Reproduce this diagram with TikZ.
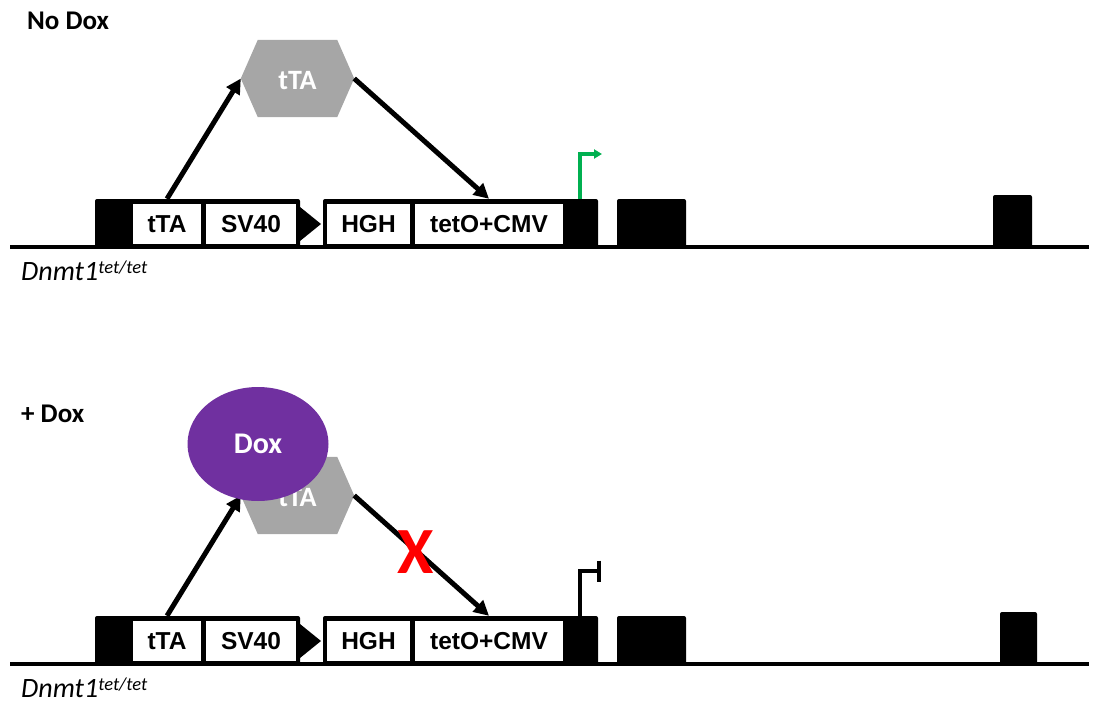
\documentclass[tikz,border=0pt]{standalone}
\usepackage{fontspec}
\setmainfont{Carlito}
\newfontfamily\arialfont{Liberation Sans}
\usetikzlibrary{arrows.meta,calc,shapes.geometric}
\definecolor{hexgray}{HTML}{A6A6A6}
\definecolor{doxpurple}{HTML}{7030A0}
\definecolor{promgreen}{HTML}{00B050}

\tikzset{
  dnaline/.style={line width=4.5pt},
  exon/.style={fill=black, draw=none, rounded corners=2pt, inner sep=0pt, minimum height=48pt},
  elementbox/.style={fill=white, draw=none, inner sep=0pt, minimum height=40pt,
    font=\arialfont\bfseries\fontsize{24.5}{28}\selectfont},
  signal/.style={line width=5pt, -{Triangle[length=15pt,width=15pt]}},
  hexframe/.style={inner sep=0pt, minimum width=113pt, minimum height=77pt},
  hextext/.style={text=white, font=\bfseries\fontsize{28}{28}\selectfont},
  title/.style={anchor=base west, inner sep=0pt, font=\bfseries\fontsize{27}{30}\selectfont},
  genotype/.style={anchor=base west, inner sep=0pt, font=\itshape\fontsize{28}{30}\selectfont},
}

% one targeted allele: prefix, vertical offset, centre x and width of the last exon
\newcommand\drawlocus[4]{%
\begin{scope}[shift={(0,#2)}]
  \draw[dnaline] (10,247) coordinate (#1left) -- (1089,247) coordinate (#1right);
  \node[exon, minimum width=205pt] (#1exA) at (197.5,223) {};
  \node[exon, minimum width=275pt] (#1exB) at (460.5,223) {};
  \node[exon, minimum width=69pt]  (#1exC) at (651.5,223) {};
  \node[exon, minimum width=#4pt, minimum height=52pt] (#1exD) at (#3,221) {};
  \node[elementbox, minimum width=68pt]  (#1tta)  at (167,224)   {tTA};
  \node[elementbox, minimum width=90pt]  (#1sv)   at (251,224)   {SV40};
  \node[elementbox, minimum width=83pt]  (#1hgh)  at (368.5,224) {HGH};
  \node[elementbox, minimum width=148pt] (#1teto) at (489,224)   {tetO+CMV};
  % loxP site
  \fill (300,207) -- (300,241) -- (321,224) -- cycle;
  \coordinate (#1ttaout) at (#1tta.north |- #1exA.north);
  \coordinate (#1tetoin) at (#1teto.north |- #1exB.north);
  \coordinate (#1tss) at (580,199);
  \node[genotype] (#1geno) at (21,280) {Dnmt1\raisebox{7pt}{\fontsize{18.5}{18}\selectfont tet/tet}};
\end{scope}}

% tTA protein drawn as a flat hexagon
\newcommand\drawhex[3]{%
  \node[hexframe] (#1) at (#2,#3) {};
  \fill[hexgray] (#1.west) -- ($(#1.north west)+(17,0)$) -- ($(#1.north east)+(-17,0)$)
    -- (#1.east) -- ($(#1.south east)+(-17,0)$) -- ($(#1.south west)+(17,0)$) -- cycle;
  \node[hextext] at ($(#1.center)+(0,2)$) {tTA};}

\begin{document}
\begin{tikzpicture}[x=1pt, y=-1pt]
\useasboundingbox (0,0) rectangle (1093,704);

% ---------------- without doxycycline ----------------
\node[title] (nodox) at (27,30) {No Dox};
\drawlocus{t}{0}{1012.5}{39}
\drawhex{hexT}{297.5}{78.5}
\draw[signal] (tttaout) -- (hexT.west);
\draw[signal] (hexT.east) -- (ttetoin);
\draw[promgreen, line width=3.5pt, -{Triangle[length=8pt,width=9pt]}]
  (ttss) -- ++(0,-45) -- ++(22,0);

% ---------------- with doxycycline ----------------
\node[title] (plusdox) at (21,422) {+ Dox};
\drawlocus{b}{417}{1018.5}{37}
\drawhex{hexB}{297.5}{495.5}
\draw[signal] (bttaout) -- (hexB.west);
\draw[signal] (hexB.east) -- (btetoin);
\node[ellipse, fill=doxpurple, inner sep=0pt, minimum width=141pt, minimum height=114pt,
  text=white, font=\bfseries\fontsize{30}{30}\selectfont] (dox) at (258,444) {Dox};
\node[text=red, font=\bfseries\fontsize{66}{66}\selectfont] (block) at (416,552) {X};
\draw[line width=4pt, -{Bar[width=21pt]}] (btss) -- ++(0,-45) -- ++(21,0);
\end{tikzpicture}
\end{document}
